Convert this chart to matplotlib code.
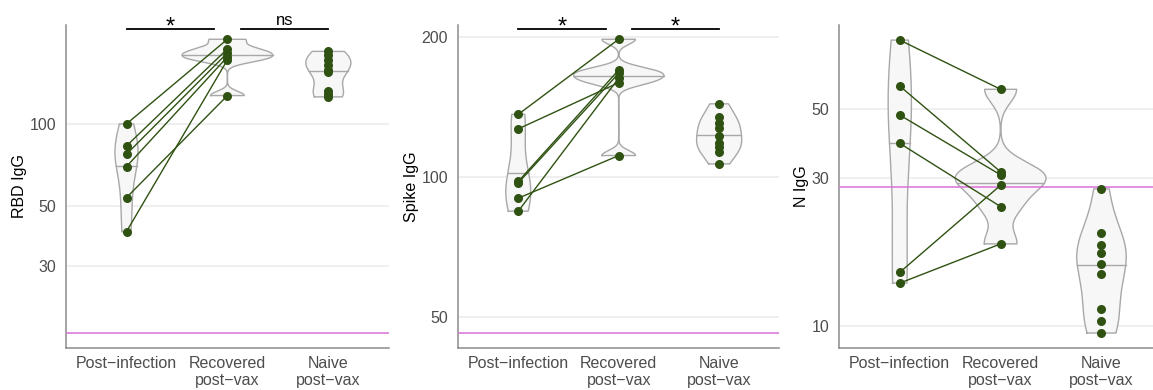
import numpy as np
import matplotlib
matplotlib.use('Agg')
import matplotlib.pyplot as plt
import matplotlib.transforms as mtransforms

plt.rcParams['font.family'] = ['Liberation Sans', 'DejaVu Sans']

# ------------------------------------------------------------------
# data
# ------------------------------------------------------------------
groups = ['Post\u2212infection', 'Recovered\npost\u2212vax', 'Naive\npost\u2212vax']

# RBD IgG
rbd_post = [100, 83.0, 77.4, 69.7, 53.6, 40.2]
rbd_rec = [204.8, 188.7, 182.4, 176.4, 127.1, 172.0]   # paired with rbd_post
rbd_naive = [184.8, 178.7, 171.9, 164.9, 157.9, 154.7, 132.2, 128.9, 125.7]
rbd_cutoff = 17.0
rbd_ticks = [30, 50, 100]
rbd_lim = (15.0, 231)
rbd_sig = ['*', 'ns']

# Spike IgG
spike_post = [136.5, 127.0, 97.9, 97.2, 90.1, 84.5]
spike_rec = [198.0, 159.7, 170.1, 167.3, 111.3, 163.3]
spike_naive = [143.8, 134.8, 130.8, 127.6, 122.7, 118.5, 116.2, 113.3, 106.8]
spike_cutoff = 46.2
spike_ticks = [50, 100, 200]
spike_lim = (42.9, 212.5)
spike_sig = ['*', '*']

# N IgG
n_post = [83.0, 59.1, 47.7, 38.7, 14.92, 13.78]
n_rec = [57.7, 31.35, 30.66, 24.25, 28.4, 18.41]
n_naive = [27.64, 20.0, 18.21, 17.19, 15.92, 14.76, 11.41, 10.41, 9.53]
n_cutoff = 28.0
n_ticks = [10, 30, 50]
n_lim = (8.53, 92.8)

GREEN = '#2f5212'
PINK = '#dd6fd8'
GRID = '#ebebeb'
TXT = '#4d4d4d'


def kde_log(vals):
    # gaussian kde on log10 scale, nrd0 bandwidth, trimmed to data range
    y = np.log10(np.asarray(vals, float))
    n = len(y)
    sd = np.std(y, ddof=1)
    q75, q25 = np.percentile(y, [75, 25])
    lo = min(sd, (q75 - q25) / 1.34) if q75 > q25 else sd
    bw = 0.9 * lo * n ** -0.2
    grid = np.linspace(y.min(), y.max(), 512)
    dens = np.exp(-0.5 * ((grid[:, None] - y[None, :]) / bw) ** 2).sum(1)
    dens /= n * bw * np.sqrt(2 * np.pi)
    return grid, dens


def draw_panel(ax, post, rec, naive, cutoff, ticks, lim, ylabel, sig=None):
    ax.set_yscale('log')
    ax.set_ylim(*lim)
    ax.set_xlim(0.4, 3.6)
    ax.set_yticks(ticks)
    ax.set_yticklabels([str(t) for t in ticks])
    ax.yaxis.set_minor_locator(matplotlib.ticker.NullLocator())
    ax.set_xticks([1, 2, 3])
    ax.set_xticklabels(groups, linespacing=1.1)
    for t in ticks:
        ax.axhline(t, color=GRID, lw=1.1, zorder=0)

    # violins, scale = "area"
    kdes = [kde_log(v) for v in (post, rec, naive)]
    dmax = max(d.max() for _, d in kdes)
    for pos, (g, d) in zip([1, 2, 3], kdes):
        hw = 0.45 * d / dmax
        yy = 10 ** g
        ax.fill_betweenx(yy, pos - hw, pos + hw, color='#f7f7f7', lw=0, zorder=1)
        xs = np.concatenate([pos - hw, (pos + hw)[::-1], [pos - hw[0]]])
        ys = np.concatenate([yy, yy[::-1], [yy[0]]])
        ax.plot(xs, ys, color='#a8a8a8', lw=1.0, zorder=2)
        cdf = np.cumsum(d) / d.sum()
        qy = np.interp(0.5, cdf, g)
        qw = np.interp(qy, g, hw)
        ax.plot([pos - qw, pos + qw], [10 ** qy] * 2, color='#a8a8a8', lw=1.0, zorder=2)

    ax.axhline(cutoff, color=PINK, lw=1.1, zorder=3)

    for a, b in zip(post, rec):
        ax.plot([1, 2], [a, b], color=GREEN, lw=1.0, zorder=4)
    ax.plot([1] * len(post), post, 'o', color=GREEN, ms=6.5, mew=0, zorder=5)
    ax.plot([2] * len(rec), rec, 'o', color=GREEN, ms=6.5, mew=0, zorder=5)
    ax.plot([3] * len(naive), naive, 'o', color=GREEN, ms=6.5, mew=0, zorder=5)

    if sig is not None:
        tr = mtransforms.blended_transform_factory(ax.transData, ax.transAxes)
        for (x0, x1), lab in zip([(1.0, 1.87), (2.13, 3.0)], sig):
            ax.plot([x0, x1], [0.988, 0.988], color='black', lw=1.3,
                    transform=tr, clip_on=False, zorder=6)
            if lab == '*':
                ax.text((x0 + x1) / 2, 0.975, lab, transform=tr, ha='center',
                        va='baseline', fontsize=17, clip_on=False)
            else:
                ax.text((x0 + x1) / 2, 0.999, lab, transform=tr, ha='center',
                        va='baseline', fontsize=12, clip_on=False)

    for s in ['top', 'right']:
        ax.spines[s].set_visible(False)
    for s in ['left', 'bottom']:
        ax.spines[s].set_color('#8c8c8c')
        ax.spines[s].set_linewidth(1.1)
    ax.tick_params(axis='both', length=0, labelsize=11.5, labelcolor=TXT)
    ax.tick_params(axis='y', pad=7)
    ax.tick_params(axis='x', pad=6)
    ax.set_ylabel(ylabel, fontsize=11.5, color='black', labelpad=2)


fig = plt.figure(figsize=(11.53, 3.9), dpi=100)
b, h = 0.1077, 0.8282
ax1 = fig.add_axes([0.0572, b, 0.2801, h])
ax2 = fig.add_axes([0.3972, b, 0.2788, h])
ax3 = fig.add_axes([0.7279, b, 0.2799, h])

draw_panel(ax1, rbd_post, rbd_rec, rbd_naive, rbd_cutoff, rbd_ticks, rbd_lim, 'RBD IgG', rbd_sig)
draw_panel(ax2, spike_post, spike_rec, spike_naive, spike_cutoff, spike_ticks, spike_lim, 'Spike IgG', spike_sig)
draw_panel(ax3, n_post, n_rec, n_naive, n_cutoff, n_ticks, n_lim, 'N IgG')

fig.savefig('out.png', dpi=100)
